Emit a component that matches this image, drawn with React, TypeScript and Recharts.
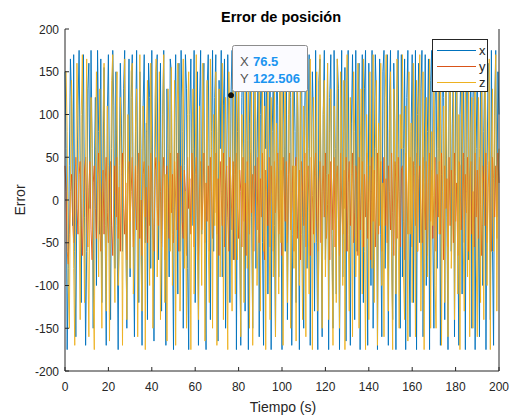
import React from 'react'
import {LineChart, Line, XAxis, YAxis, ReferenceDot} from 'recharts'

// sample times (s), one sample every 0.5 s
const tiempo = Array.from({length: 401}, (_, i) => i / 2)

const errX = [
  150, 60, -175, -80, 40, 165, 120, -30, 170, -60, -160, 20, 110, 175, 40, -120, 90, 170, -20, -170,
  -60, 130, 160, -10, 175, 60, -150, 30, 120, -100, 175, 80, -40, 165, -120, 20, 155, -30, -170, 100,
  170, 20, -140, 60, 175, 110, -80, 150, -30, -175, 40, 160, 90, -60, 130, 175, -20, -150, 70, 165,
  -90, 120, 170, -40, -160, 80, 175, 30, -120, 150, 60, -170, 110, 170, -50, 90, -140, 160, 120, -80,
  175, -20, -165, 50, 150, 170, -70, 20, 160, -130, 100, 175, -10, -170, 130, 60, -90, 165, 150, -40,
  -175, 90, 170, 20, -110, 160, -60, 175, 80, -150, 40, 170, 130, -80, -175, 100, 165, -30, 60, 175,
  -120, 30, 150, -170, 110, 175, -40, 90, 160, -100, -175, 130, 170, 20, -140, 80, 175, -60, 120, 170,
  -30, -165, 140, 60, 175, -90, 110, 165, -150, 40, 170, 90, -120, 122.506, 175, -70, 30, 160, -175, 80,
  150, -40, -170, 120, 175, 20, -130, 165, 70, -175, 90, 170, -20, -150, 140, 175, -80, 50, 160, -160,
  100, 175, -50, -170, 130, 60, 170, -110, 40, 165, -175, 80, 150, -30, -160, 175, 110, -90, 170, 20,
  -175, 140, 90, -60, 170, -140, 30, 175, 120, -170, -40, 160, 80, -120, 175, 50, -175, 130, 165, -20,
  -150, 110, 175, -80, 60, 170, -170, 20, 150, 90, -130, 175, -50, -175, 140, 165, -10, -160, 100, 175,
  -70, 30, 160, -175, 120, 170, -40, -150, 175, 60, -110, 165, 130, -175, 20, 175, -90, 80, 155, -165,
  140, 175, -30, -170, 90, 170, 40, -140, 175, -60, 110, 160, -175, 50, 170, -120, 130, 175, -20, -170,
  160, 80, -100, 175, -150, 30, 170, 120, -175, 60, 165, -40, -160, 150, 175, -80, 20, 170, -170, 110,
  175, -60, -140, 160, 90, -175, 130, 175, 10, -150, 170, -90, 60, 165, -175, 120, 175, -30, -160, 80,
  170, -120, 40, 175, -175, 100, 160, -50, 130, 175, -160, 20, 170, -100, 80, 165, -175, 140, 175, -40,
  -150, 110, 170, -80, 60, 175, -170, 30, 160, 120, -140, 175, -20, -175, 150, 170, -60, 90, 165, -160,
  130, 175, -40, -170, 100, 160, -110, 175, 50, -175, 140, 170, -70, 20, 175, -150, 120, 165, -175, 60,
  170, -30, -160, 150, 175, -100, 80, 170, -175, 40, 160, 130, -140, 175, -60, -170, 110, 175, -20, 150,
  100,
]

const errY = [
  40, 10, -60, -75, -40, 10, 30, -20, -50, 20, 50, -10, -40, 30, 45, -30, -65, 0, 35, 50,
  -20, -55, 15, 45, -35, -70, 20, 40, -10, -45, 30, 55, -25, -60, 10, 35, -40, 20, 50, -15,
  -50, 25, 45, -30, -65, 5, 40, -20, 50, -45, 15, -60, 35, 55, -10, -40, 20, -70, 30, 45,
  -25, 10, 50, -55, -15, 40, -35, 25, 55, -45, 0, -65, 30, 45, -20, 15, -50, 40, -30, 55,
  20, -40, -60, 35, 50, -10, -30, 45, 10, -55, 25, 50, -70, -20, 40, 15, -45, 55, -15, 30,
  -50, 45, 0, -35, 55, -60, 20, 40, -25, -45, 35, 10, -65, 50, -10, 25, -40, 55, 5, -55,
  30, 50, -20, -70, 15, 45, -35, 0, 55, -50, 20, -25, 40, -60, 50, 10, -45, 35, -15, 55,
  -40, 25, -65, 45, 5, -30, 55, -55, 20, 40, -20, -60, 50, 15, -35, 45, -70, 30, 55, -10,
  -45, 35, 10, -55, 50, -25, 20, -65, 45, 0, -40, 55, -15, 30, -60, 40, 15, -35, 50, -50,
  25, -20, 55, -45, -70, 35, 10, -30, 50, -55, 40, 5, -60, 45, -15, 20, 55, -40, -10, 35,
  -65, 50, 15, -25, 45, -50, 30, 55, -35, -10, 40, -60, 20, 50, -45, 0, 35, -70, 45, 10,
  -30, 55, -55, 25, 40, -15, -65, 50, 5, -40, 35, 55, -25, -60, 20, 45, -50, 10, 40, -20,
  55, -45, -5, 30, -70, 45, 15, -35, 50, -55, 25, 40, -20, -65, 55, 0, -40, 35, -10, 50,
  -60, 20, 45, -30, 10, 55, -50, -15, 40, 25, -65, 50, -35, 5, 45, -55, 30, -20, 55, -45,
  15, 40, -70, 50, -25, 35, -55, 0, 55, -40, 20, 45, -60, -10, 50, -30, 25, -50, 40, 10,
  -35, 55, -15, -65, 45, 20, -45, 50, -5, -55, 35, 40, -25, -70, 55, 15, -40, 30, 50, -20,
  -55, 45, 10, -30, 55, -60, 25, 40, -15, -50, 50, 0, -35, 45, -65, 20, 55, -25, 35, -45,
  5, 50, -60, 30, -20, 45, -40, 55, 10, -70, 40, -10, 25, -55, 50, -30, 35, 15, -50, 55,
  -25, 20, -65, 45, 40, -35, 0, 55, -50, 30, -15, 50, -60, 25, 45, -40, 10, -55, 55, -20,
  35, -45, 50, -5, -65, 40, 20, -30, 55, -50, 15, 45, -35, -60, 50, 25, -20, 40, -45, 55,
  20,
]

const errZ = [
  150, 150, 80, -100, -150, 20, 140, 60, -80, -170, 40, 160, 90, -30, -140, 100, 170, -10, -120, 50,
  165, -60, -160, 30, 120, 70, -110, -175, 60, 150, 20, -90, 130, -40, -150, 90, 160, -20, -130, 110,
  40, -165, 10, 140, 170, -50, -120, 80, 150, -100, -60, 120, 30, -170, 60, 165, -30, -140, 100, 20,
  -80, 150, 160, -110, -40, 90, 130, -160, 10, 170, -70, -130, 110, 50, -175, 80, 140, -20, -100, 160,
  60, -150, -30, 120, 165, -90, 20, 150, -140, -50, 100, 170, -120, 30, -165, 130, 70, -60, 155, -100,
  -10, 140, -170, 50, 160, 90, -130, -40, 120, 165, -80, 10, -150, 100, 150, -20, -175, 70, 130, -110,
  40, 170, -60, -140, 110, 20, -100, 160, 80, -165, 30, 140, -50, -120, 165, 60, -150, 100, -30, 150,
  -170, 80, 130, -90, 10, 160, -140, 50, 120, -60, -175, 150, 90, -20, -130, 170, 40, -110, 140, -70,
  160, -40, -160, 100, 50, -120, 150, 20, -80, 170, -150, 60, 130, -170, 0, 140, 90, -100, -40, 165,
  -130, 30, 150, -60, 110, -175, 70, 160, -20, -140, 120, 40, -90, 165, -160, 90, 20, -110, 150, -50,
  130, -170, 60, 170, -30, -120, 100, 150, -150, 10, 160, -80, 40, -165, 140, 80, -100, 170, -40, -140,
  110, 50, -160, 150, -10, -110, 165, 70, -175, 120, -50, 30, 150, -130, -70, 170, 20, -150, 100, 140,
  -90, -20, 160, -140, 80, 130, -60, -170, 110, 40, -120, 165, 0, -150, 150, 60, -100, 140, -175, 90,
  170, -40, -130, 120, 30, -160, 150, 80, -90, -20, 160, -150, 50, 130, -110, 165, -60, -175, 100, 40,
  -140, 150, 10, -80, 170, -120, 60, 140, -170, 90, -30, 160, -100, 20, -160, 120, 170, -50, -130, 80,
  150, -70, -175, 130, 40, -110, 165, -20, -150, 100, 60, 170, -90, -140, 110, 20, -165, 150, -40, 90,
  -120, 160, 30, -160, 140, -60, 100, 170, -130, -10, 150, -175, 70, 120, -90, 40, 165, -150, 80, -30,
  170, -100, -150, 60, 130, -40, 160, -170, 20, 110, -120, 150, 50, -160, 90, 170, -80, -20, 140, -140,
  30, 165, -110, 100, -175, 60, 150, -50, -130, 170, 10, -90, 140, -160, 80, 120, -150, 40, 165, -70,
  -160, 120, 60, -120, 170, -30, -140, 150, 90, -100, 20, 165, -175, 50, 130, -60, 100, 170, -130, 30,
  60,
]

const xTicks = [0, 20, 40, 60, 80, 100, 120, 140, 160, 180, 200]
const yTicks = [-200, -150, -100, -50, 0, 50, 100, 150, 200]
const seriesNames = ['x', 'y', 'z']
const tipX = 76.5
const tipY = 122.506

const AXIS = '#262626'
const FONT = '"Liberation Sans", Arial, Helvetica, sans-serif'
const COLORS: Record<string, string> = {x: '#0072BD', y: '#D95319', z: '#EDB120'}

const data = tiempo.map((t, i) => ({t, x: errX[i], y: errY[i], z: errZ[i]}))

const BottomTick = (p: any) => (
  <g>
    <line x1={p.x} x2={p.x} y1={p.y} y2={p.y - 4} stroke={AXIS} />
    <text x={p.x} y={p.y + 20} textAnchor="middle" fontSize={12} fill={AXIS} fontFamily={FONT}>{p.payload.value}</text>
  </g>
)
const TopTick = (p: any) => <line x1={p.x} x2={p.x} y1={p.y} y2={p.y + 4} stroke={AXIS} />
const LeftTick = (p: any) => (
  <g>
    <line x1={p.x} x2={p.x + 4} y1={p.y} y2={p.y} stroke={AXIS} />
    <text x={p.x - 6} y={p.y + 4.5} textAnchor="end" fontSize={12} fill={AXIS} fontFamily={FONT}>{p.payload.value}</text>
  </g>
)
const RightTick = (p: any) => <line x1={p.x} x2={p.x - 4} y1={p.y} y2={p.y} stroke={AXIS} />

export default function App() {
  return (
    <div style={{position: 'absolute', left: 0, top: 0, width: 510, height: 417, background: '#fff'}}>
      <LineChart width={510} height={417} data={data} margin={{top: 29, right: 0, bottom: 0, left: 0}}>
        <XAxis xAxisId="b" dataKey="t" type="number" domain={[0, 200]} ticks={xTicks} height={46}
          tickSize={0} tickMargin={0} tickLine={false} stroke={AXIS} tick={<BottomTick />} interval={0} />
        <XAxis xAxisId="t" dataKey="t" type="number" orientation="top" domain={[0, 200]} ticks={xTicks} height={0}
          tickSize={0} tickMargin={0} tickLine={false} stroke={AXIS} tick={<TopTick />} interval={0} />
        <YAxis yAxisId="l" type="number" domain={[-200, 200]} ticks={yTicks} width={65}
          tickSize={0} tickMargin={0} tickLine={false} stroke={AXIS} tick={<LeftTick />} interval={0} />
        <YAxis yAxisId="r" type="number" orientation="right" domain={[-200, 200]} ticks={yTicks} width={11}
          tickSize={0} tickMargin={0} tickLine={false} stroke={AXIS} tick={<RightTick />} interval={0} />
        <Line xAxisId="b" yAxisId="l" dataKey="x" stroke={COLORS.x} strokeWidth={0.9} dot={false} isAnimationActive={false} />
        <Line xAxisId="b" yAxisId="l" dataKey="y" stroke={COLORS.y} strokeWidth={0.9} dot={false} isAnimationActive={false} />
        <Line xAxisId="b" yAxisId="l" dataKey="z" stroke={COLORS.z} strokeWidth={0.9} dot={false} isAnimationActive={false} />
        <ReferenceDot xAxisId="b" yAxisId="l" x={tipX} y={tipY} r={2.5} fill="#111" stroke="#111" />
      </LineChart>

      <svg style={{position: 'absolute', left: 0, top: 0, pointerEvents: 'none'}} width={510} height={417} fontFamily={FONT}>
        <text x={281} y={22} textAnchor="middle" fontSize={14.5} fontWeight="bold" fill="#000">Error de posición</text>
        <text x={283} y={412} textAnchor="middle" fontSize={14} fill={AXIS}>Tiempo (s)</text>
        <text transform="translate(25,200) rotate(-90)" textAnchor="middle" fontSize={14} fill={AXIS}>Error</text>

        <rect x={432.5} y={39.5} width={55} height={52} fill="#fff" stroke={AXIS} />
        {seriesNames.map((k, i) => (
          <g key={k}>
            <line x1={437} x2={476} y1={50.5 + i * 16} y2={50.5 + i * 16} stroke={COLORS[k]} strokeWidth={1} />
            <text x={479} y={55 + i * 16} fontSize={13} fill={AXIS}>{k}</text>
          </g>
        ))}

        <rect x={232.5} y={45.5} width={75} height={46} rx={2} fill="#fbfbff" stroke="#8c8c8c" />
        <text x={240} y={66} fontSize={13} fill="#555">X</text>
        <text x={253} y={66} fontSize={13} fontWeight="bold" fill="#1a94f0">{tipX}</text>
        <text x={240} y={83} fontSize={13} fill="#555">Y</text>
        <text x={253} y={83} fontSize={13} fontWeight="bold" fill="#1a94f0">{tipY}</text>
      </svg>
    </div>
  )
}
